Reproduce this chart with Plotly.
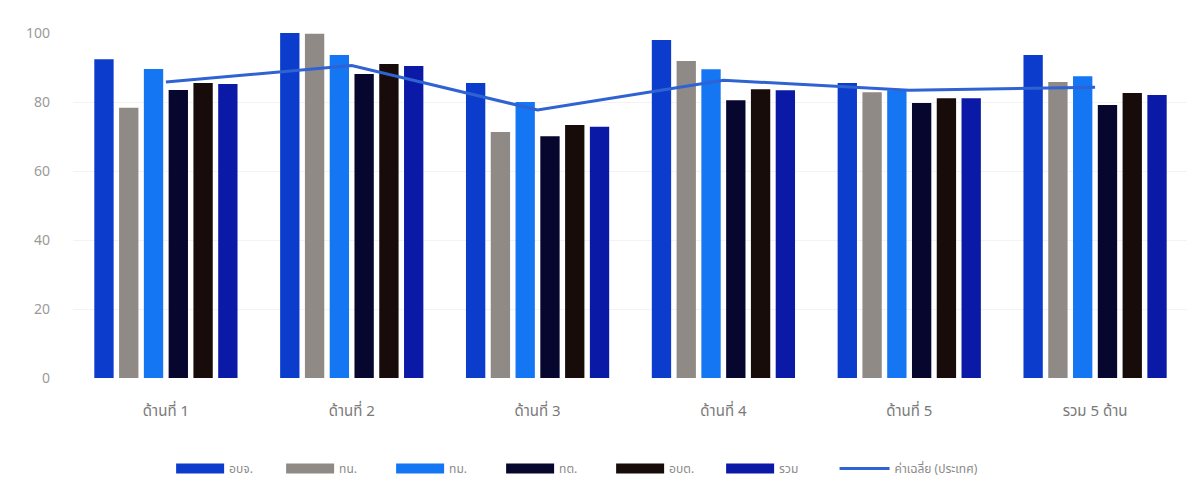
import plotly.graph_objects as go

categories = ["ด้านที่ 1", "ด้านที่ 2", "ด้านที่ 3", "ด้านที่ 4", "ด้านที่ 5", "รวม 5 ด้าน"]
series_names = ["อบจ.", "ทน.", "ทม.", "ทต.", "อบต.", "รวม"]
obj = [92.4, 100.0, 85.5, 98.0, 85.5, 93.6]
tn = [78.3, 99.8, 71.3, 91.9, 82.8, 85.8]
tm = [89.6, 93.6, 80.0, 89.5, 83.4, 87.5]
tt = [83.5, 88.1, 70.1, 80.5, 79.7, 79.1]
obt = [85.5, 91.0, 73.3, 83.7, 81.1, 82.6]
total = [85.2, 90.4, 72.8, 83.4, 81.1, 82.0]
national_avg = [85.8, 90.6, 77.7, 86.3, 83.4, 84.3]
line_name = "ค่าเฉลี่ย (ประเทศ)"

series_values = [obj, tn, tm, tt, obt, total]
colors = ["#0b3ccc", "#8f8a86", "#1476f2", "#06062e", "#170c0a", "#0a1aa6"]
line_color = "#2f62d2"

FONT = "Noto Sans Thai, Noto Sans, Tahoma, sans-serif"

fig = go.Figure()
for name, vals, col in zip(series_names, series_values, colors):
    fig.add_trace(go.Bar(x=categories, y=vals, name=name, marker=dict(color=col, line=dict(width=0)),
                         showlegend=False))
fig.add_trace(go.Scatter(x=categories, y=national_avg, name=line_name, mode="lines",
                         line=dict(color=line_color, width=3), showlegend=False))

# legend-only entries with wide rectangular swatches
for name, col in zip(series_names, colors):
    fig.add_trace(go.Scatter(x=[None], y=[None], mode="lines", name=name,
                             line=dict(color=col, width=13), legend="legend"))
fig.add_trace(go.Scatter(x=[None], y=[None], mode="lines", name=line_name,
                         line=dict(color=line_color, width=3), legend="legend2"))

fig.update_layout(
    width=1195, height=502,
    margin=dict(l=65, r=15, t=25, b=132),
    paper_bgcolor="white", plot_bgcolor="white",
    barmode="group", bargap=0.2, bargroupgap=0.22,
    font=dict(family=FONT, color="#8a8a8a", size=14),
    showlegend=True,
    legend=dict(orientation="h", x=0.088, xanchor="left", y=-0.22, yanchor="top",
                font=dict(size=12, color="#8a8a8a"), itemwidth=48, entrywidth=47,
                tracegroupgap=0),
    legend2=dict(orientation="h", x=0.683, xanchor="left", y=-0.22, yanchor="top",
                 font=dict(size=12, color="#8a8a8a"), itemwidth=50),
    xaxis=dict(showgrid=False, showline=False, zeroline=False, ticks="",
               ticklabelstandoff=22, tickfont=dict(size=15, color="#7a7a7a")),
    yaxis=dict(range=[0, 100], tickvals=[0, 20, 40, 60, 80, 100], showgrid=True,
               gridcolor="#f3f3f3", zeroline=False, showline=False, ticks="",
               ticklabelstandoff=22, tickfont=dict(size=14, color="#9a9a9a")),
)

fig.write_html("out.html")
